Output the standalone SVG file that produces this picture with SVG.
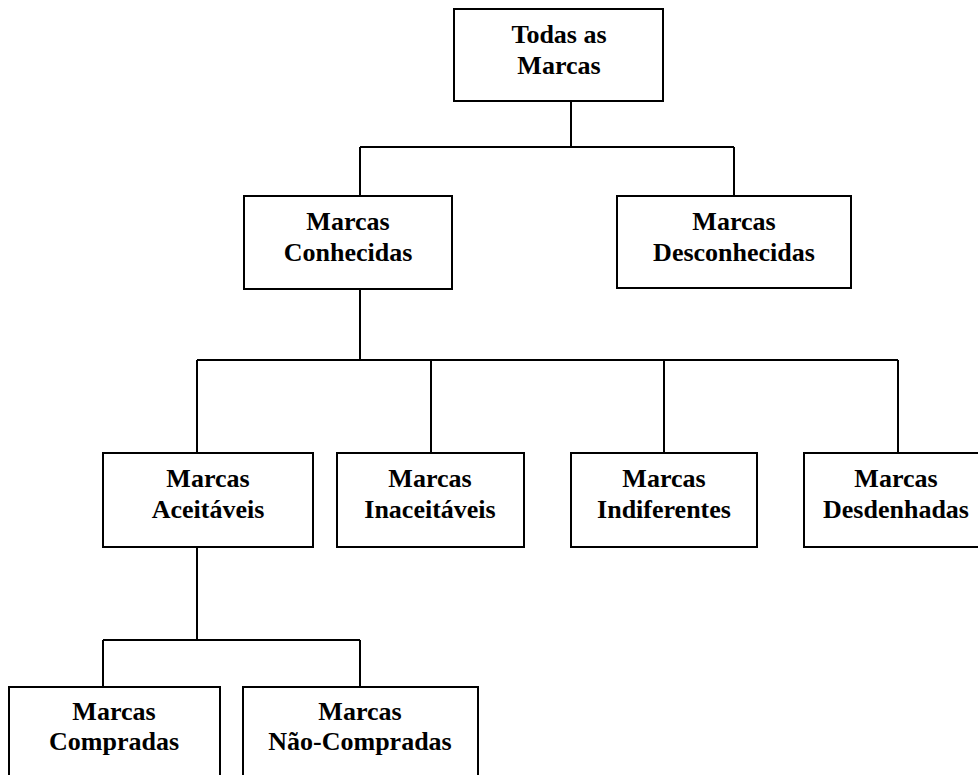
<svg xmlns="http://www.w3.org/2000/svg" width="978" height="775" viewBox="0 0 978 775">
  <style>
    .box { fill: #ffffff; stroke: #000000; stroke-width: 2; }
    .lbl { font-family: "Liberation Serif", "Times New Roman", serif; font-weight: bold; font-size: 26px; fill: #000000; text-anchor: middle; }
    .wire { fill: none; stroke: #000000; stroke-width: 2; }
  </style>
  <rect width="978" height="775" fill="#ffffff"/>

  <!-- tree connectors -->
  <g id="connectors">
    <path class="wire" d="M571,101 V147 M360,147 H734 M360,147 V196 M734,147 V196"/>
    <path class="wire" d="M360,289 V360 M197,360 H898 M197,360 V453 M431,360 V453 M664,360 V453 M898,360 V453"/>
    <path class="wire" d="M197,547 V640 M103,640 H360 M103,640 V687 M360,640 V687"/>
  </g>

  <g id="todas">
    <rect class="box" x="454" y="9" width="209" height="92"/>
    <text class="lbl" x="559" y="43">Todas as</text>
    <text class="lbl" x="559" y="74">Marcas</text>
  </g>

  <g id="conhecidas">
    <rect class="box" x="244" y="196" width="208" height="93"/>
    <text class="lbl" x="348" y="230">Marcas</text>
    <text class="lbl" x="348" y="261">Conhecidas</text>
  </g>

  <g id="desconhecidas">
    <rect class="box" x="617" y="196" width="234" height="92"/>
    <text class="lbl" x="734" y="230">Marcas</text>
    <text class="lbl" x="734" y="261">Desconhecidas</text>
  </g>

  <g id="aceitaveis">
    <rect class="box" x="103" y="453" width="210" height="94"/>
    <text class="lbl" x="208" y="487">Marcas</text>
    <text class="lbl" x="208" y="518">Aceitáveis</text>
  </g>

  <g id="inaceitaveis">
    <rect class="box" x="337" y="453" width="187" height="94"/>
    <text class="lbl" x="430" y="487">Marcas</text>
    <text class="lbl" x="430" y="518">Inaceitáveis</text>
  </g>

  <g id="indiferentes">
    <rect class="box" x="571" y="453" width="186" height="94"/>
    <text class="lbl" x="664" y="487">Marcas</text>
    <text class="lbl" x="664" y="518">Indiferentes</text>
  </g>

  <g id="desdenhadas">
    <rect class="box" x="804" y="453" width="186" height="94"/>
    <text class="lbl" x="896" y="487">Marcas</text>
    <text class="lbl" x="896" y="518">Desdenhadas</text>
  </g>

  <g id="compradas">
    <rect class="box" x="9" y="687" width="211" height="100"/>
    <text class="lbl" x="114" y="720">Marcas</text>
    <text class="lbl" x="114" y="750">Compradas</text>
  </g>

  <g id="nao-compradas">
    <rect class="box" x="243" y="687" width="235" height="100"/>
    <text class="lbl" x="360" y="720">Marcas</text>
    <text class="lbl" x="360" y="750">Não-Compradas</text>
  </g>
</svg>
